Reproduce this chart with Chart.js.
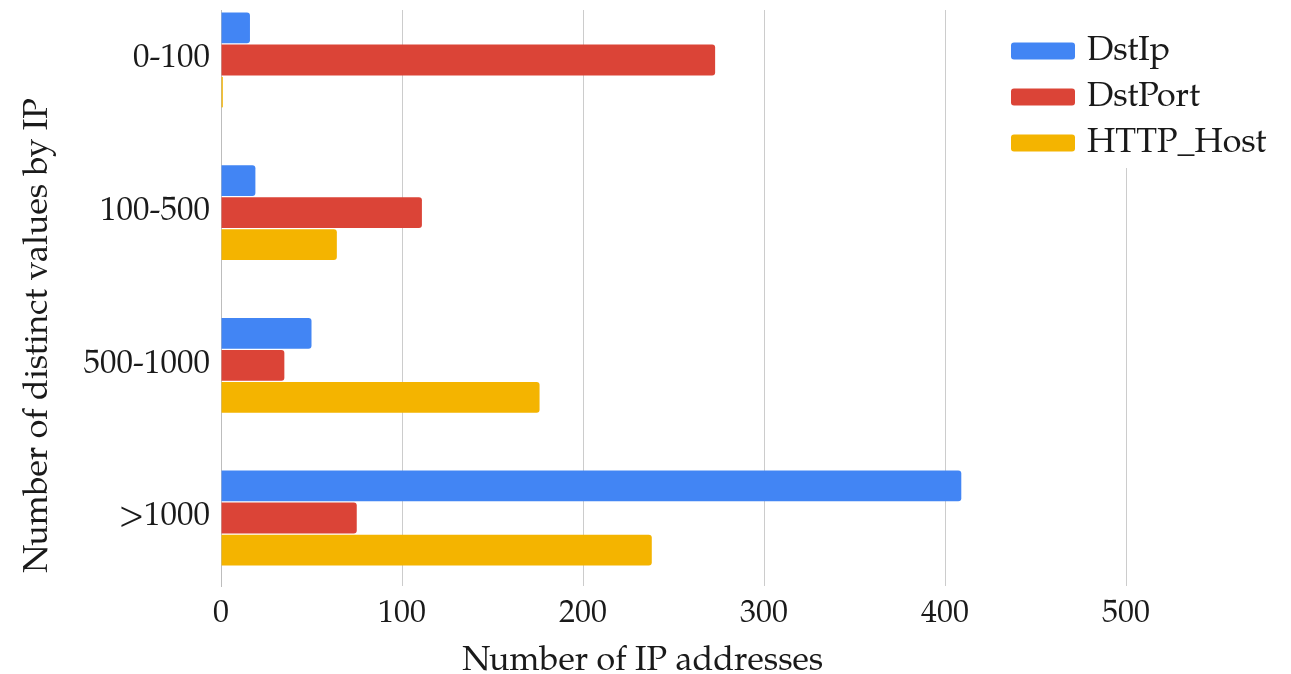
<!DOCTYPE html>
<html>
<head>
<meta charset="utf-8">
<title>Distinct values by IP</title>
<script src="https://cdn.jsdelivr.net/npm/chart.js@4/dist/chart.umd.min.js"></script>
<style>
  html, body { margin: 0; padding: 0; background: #ffffff; }
  #c { display: block; }
</style>
</head>
<body>
<canvas id="c" width="1291" height="674"></canvas>
<script>
// Buckets of distinct values seen per source IP
const categories = ['0-100', '100-500', '500-1000', '>1000'];

// Number of IP addresses in each bucket, per feature
const dstIp    = [16, 19, 50, 409];
const dstPort  = [273, 111, 35, 75];
const httpHost = [1, 64, 176, 238];

const seriesNames  = ['DstIp', 'DstPort', 'HTTP_Host'];
const seriesColors = ['#4285F4', '#DB4437', '#F4B400'];

const xTicks = [0, 100, 200, 300, 400, 500];

const xTitle = 'Number of IP addresses';
const yTitle = 'Number of distinct values by IP';

const SERIF = "'Palatino Linotype', Palatino, 'TeX Gyre Pagella', P052, 'Liberation Serif', serif";
const TEXT_COLOR = '#1a1a1a';

const seriesValues = [dstIp, dstPort, httpHost];

const datasets = seriesNames.map((name, s) => ({
  label: name,
  data: seriesValues[s].map((v, i) => ({ x: v, y: i })),
  backgroundColor: seriesColors[s],
  borderWidth: 0,
  borderRadius: 3,
  borderSkipped: 'start',
  categoryPercentage: 0.63,
  barPercentage: 0.96
}));

// Legend panel and axis titles drawn on top of the plot
const overlay = {
  id: 'overlay',
  afterDraw(chart) {
    const { ctx, chartArea: a } = chart;
    ctx.save();

    // white panel behind the legend (hides the top of the last grid line)
    const panelX = a.right - 126;
    ctx.fillStyle = '#ffffff';
    ctx.fillRect(panelX, 0, chart.width - panelX, 168);

    // legend entries
    ctx.font = '34px ' + SERIF;
    ctx.textBaseline = 'middle';
    ctx.textAlign = 'left';
    chart.data.datasets.forEach((ds, i) => {
      const cy = 51 + i * 46;
      const bx = panelX + 11;
      ctx.fillStyle = ds.backgroundColor;
      ctx.beginPath();
      ctx.roundRect(bx, cy - 8.5, 64, 17, 3);
      ctx.fill();
      ctx.fillStyle = TEXT_COLOR;
      ctx.fillText(ds.label, bx + 76, cy + 1);
    });

    // axis titles
    ctx.font = '34px ' + SERIF;
    ctx.fillStyle = TEXT_COLOR;
    ctx.textAlign = 'center';
    ctx.textBaseline = 'alphabetic';
    ctx.fillText(xTitle, a.left + (a.right - a.left) * 0.466, chart.height - 4);

    ctx.translate(47, a.top + (a.bottom - a.top) * 0.565);
    ctx.rotate(-Math.PI / 2);
    ctx.fillText(yTitle, 0, 0);

    ctx.restore();
  }
};

new Chart(document.getElementById('c'), {
  type: 'bar',
  data: { datasets },
  plugins: [overlay],
  options: {
    indexAxis: 'y',
    responsive: false,
    animation: false,
    devicePixelRatio: 1,
    layout: { padding: { top: 10, right: 165, bottom: 0, left: 0 } },
    plugins: {
      legend: { display: false },
      tooltip: { enabled: false }
    },
    scales: {
      x: {
        type: 'linear',
        position: 'bottom',
        min: 0,
        max: 500,
        bounds: 'data',
        afterBuildTicks: s => { s.ticks = xTicks.map(v => ({ value: v })); },
        afterFit: s => { s.height = 88; s.paddingLeft = 0; s.paddingRight = 0; },
        grid: { color: '#cccccc', lineWidth: 1, drawTicks: false },
        border: { display: false },
        ticks: {
          padding: 10,
          color: TEXT_COLOR,
          font: { family: SERIF, size: 32 }
        }
      },
      y: {
        type: 'linear',
        reverse: true,
        offset: false,
        min: -0.3275,
        max: 3.4454,
        bounds: 'data',
        afterBuildTicks: s => { s.ticks = categories.map((_, i) => ({ value: i })); },
        afterFit: s => { s.width = 221; s.paddingTop = 0; s.paddingBottom = 0; },
        grid: { display: false, drawTicks: false, offset: false },
        border: { display: true, color: '#bdbdbd', width: 1 },
        ticks: {
          padding: 11,
          color: TEXT_COLOR,
          font: { family: SERIF, size: 33 },
          callback: v => categories[v]
        }
      }
    }
  }
});
</script>
</body>
</html>
